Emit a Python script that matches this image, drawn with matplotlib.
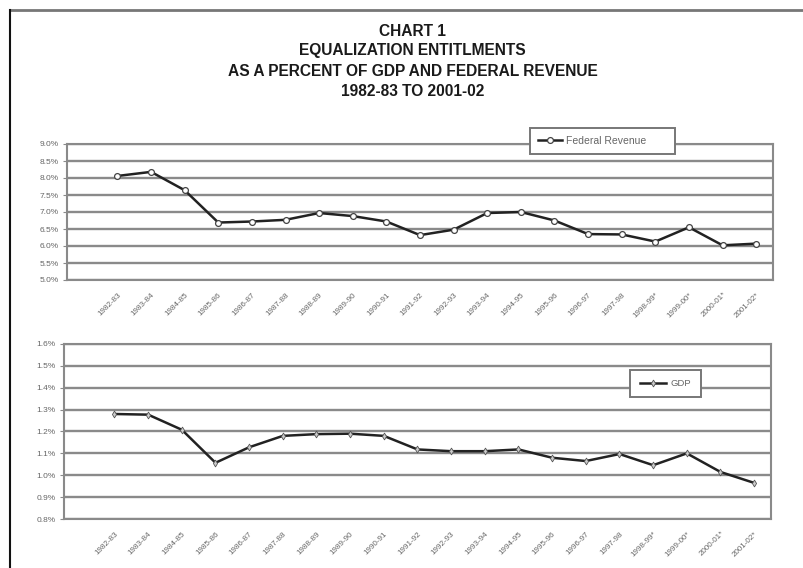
import matplotlib
matplotlib.use("Agg")
import matplotlib.pyplot as plt
from matplotlib.lines import Line2D
from matplotlib.ticker import PercentFormatter, MultipleLocator

plt.rcParams['font.family'] = ['Liberation Sans', 'DejaVu Sans']

# data (percent)
years = ["1982-83", "1983-84", "1984-85", "1985-86", "1986-87", "1987-88",
         "1988-89", "1989-90", "1990-91", "1991-92", "1992-93", "1993-94",
         "1994-95", "1995-96", "1996-97", "1997-98", "1998-99*", "1999-00*",
         "2000-01*", "2001-02*"]
fed_revenue = [8.06, 8.18, 7.64, 6.69, 6.72, 6.77, 6.97, 6.88, 6.72, 6.32,
               6.48, 6.97, 7.00, 6.75, 6.35, 6.34, 6.13, 6.55, 6.02, 6.07]
gdp = [1.28, 1.277, 1.208, 1.057, 1.128, 1.18, 1.188, 1.19, 1.18, 1.118,
       1.11, 1.11, 1.118, 1.08, 1.065, 1.097, 1.046, 1.10, 1.015, 0.965]

title_lines = ["CHART 1", "EQUALIZATION ENTITLMENTS",
               "AS A PERCENT OF GDP AND FEDERAL REVENUE", "1982-83 TO 2001-02"]

fig = plt.figure(figsize=(8.04, 5.68), dpi=100)

# page frame
fig.add_artist(Line2D([10/804, 1], [1-9.5/568]*2, color="#777777", lw=2))
fig.add_artist(Line2D([10.5/804]*2, [0, 1-9.5/568], color="#111111", lw=1.5))

for i, t in enumerate(title_lines):
    fig.text(0.513, 1 - (31 + 20*i)/568, t, ha="center", va="center",
             fontsize=11.2, fontweight="bold", color="#1a1a1a")

grid_c = "#8a8a8a"
x = list(range(len(years)))


def style(ax, lo, hi, step):
    ax.set_xlim(-1.5, len(years) - 0.5)
    ax.set_ylim(lo, hi)
    ax.yaxis.set_major_locator(MultipleLocator(step))
    ax.yaxis.set_major_formatter(PercentFormatter(decimals=1))
    ax.grid(axis="y", color=grid_c, lw=1.7)
    ax.set_axisbelow(True)
    for s in ax.spines.values():
        s.set_color(grid_c)
        s.set_linewidth(1.5)
    ax.tick_params(axis="y", labelsize=6, labelcolor="#666666", length=3,
                   color=grid_c, pad=3)
    ax.tick_params(axis="x", length=0, pad=8)
    ax.set_xticks(x)
    ax.set_xticklabels(years, rotation=45, ha="right", rotation_mode="anchor",
                       fontsize=5.8, color="#666666")


ax1 = fig.add_axes([67/804, 1-280/568, 706/804, 136/568])
ax1.plot(x, fed_revenue, color="#222222", lw=1.8, marker="o", ms=4.2,
         mfc="white", mec="#444444", mew=0.9, label="Federal Revenue")
style(ax1, 5.0, 9.0, 0.5)
leg1 = ax1.legend(loc="center", bbox_to_anchor=(530/804, 1-141/568, 145/804, 0),
                  bbox_transform=fig.transFigure, mode="expand", fontsize=7.5,
                  frameon=True, fancybox=False, edgecolor="#777777",
                  framealpha=1, handlelength=2.3, borderpad=0.75,
                  borderaxespad=0, handletextpad=0.4, labelcolor="#666666")
leg1.get_frame().set_linewidth(1.4)
leg1._legend_box.align = "center"

ax2 = fig.add_axes([64/804, 1-519/568, 707/804, 175/568])
ax2.plot(x, gdp, color="#222222", lw=1.8, marker="d", ms=3.5,
         mfc="#cccccc", mec="#555555", mew=0.6, label="GDP")
style(ax2, 0.8, 1.6, 0.1)
leg2 = ax2.legend(loc="center", bbox_to_anchor=(665.5/804, 1-383.5/568),
                  bbox_transform=fig.transFigure, fontsize=6.8, frameon=True,
                  fancybox=False, edgecolor="#777777", framealpha=1,
                  handlelength=2.8, borderpad=1.0, borderaxespad=0,
                  handletextpad=0.5, labelcolor="#666666")
leg2.get_frame().set_linewidth(1.4)

fig.savefig("out.png", dpi=100)
